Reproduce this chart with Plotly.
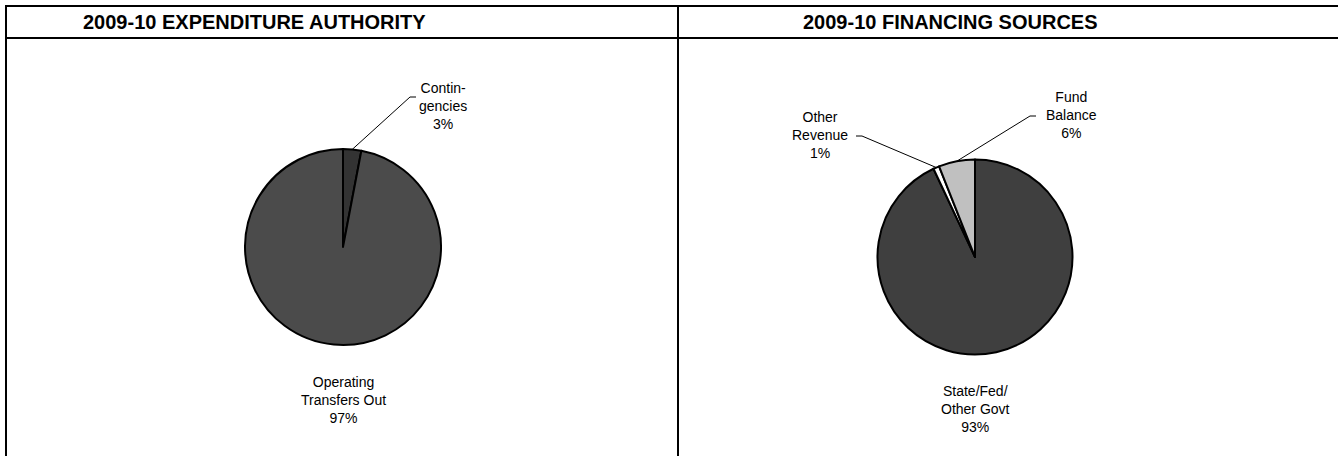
import math
import plotly.graph_objects as go

W, H = 1338, 456

# ---- data ----
exp_labels = ["Contin-<br>gencies", "Operating<br>Transfers Out"]
exp_values = [3, 97]
exp_colors = ["#333333", "#4b4b4b"]

fin_labels = ["State/Fed/<br>Other Govt", "Other<br>Revenue", "Fund<br>Balance"]
fin_values = [93, 1, 6]
fin_colors = ["#3f3f3f", "#ffffff", "#c0c0c0"]

titles = ["2009-10 EXPENDITURE AUTHORITY", "2009-10 FINANCING SOURCES"]

# ---- geometry (pixels) ----
pie1_c, pie1_r = (343, 247), 98
pie2_c, pie2_r = (975, 257), 97.5


def px(x):
    return x / W


def py(y):
    return 1 - y / H


def dom(c, r):
    return dict(x=[px(c[0] - r), px(c[0] + r)], y=[py(c[1] + r), py(c[1] - r)])


fig = go.Figure()
fig.add_trace(go.Pie(labels=exp_labels, values=exp_values, sort=False, direction="clockwise",
                     rotation=0, textinfo="none", hoverinfo="label+percent",
                     marker=dict(colors=exp_colors, line=dict(color="black", width=2)),
                     domain=dom(pie1_c, pie1_r), showlegend=False))
fig.add_trace(go.Pie(labels=fin_labels, values=fin_values, sort=False, direction="clockwise",
                     rotation=0, textinfo="none", hoverinfo="label+percent",
                     marker=dict(colors=fin_colors, line=dict(color="black", width=2)),
                     domain=dom(pie2_c, pie2_r), showlegend=False))


def mid_point(values, idx, c, r):
    tot = sum(values)
    start = sum(values[:idx]) / tot * 360
    mid = start + values[idx] / tot * 180
    a = math.radians(mid)
    return c[0] + r * math.sin(a), c[1] - r * math.cos(a)


def pct(values, idx):
    return f"{round(values[idx] / sum(values) * 100)}%"


shapes = []
annos = []
black = dict(color="black", width=2)
# frame
shapes.append(dict(type="line", xref="paper", yref="paper", x0=px(6), x1=px(1338), y0=py(6), y1=py(6), line=black))
shapes.append(dict(type="line", xref="paper", yref="paper", x0=px(6), x1=px(1338), y0=py(38), y1=py(38), line=black))
shapes.append(dict(type="line", xref="paper", yref="paper", x0=px(6), x1=px(6), y0=py(5), y1=py(456), line=black))
shapes.append(dict(type="line", xref="paper", yref="paper", x0=px(678), x1=px(678), y0=py(5), y1=py(456), line=black))

font_h = dict(family="Liberation Sans, Arial, sans-serif", size=20, color="black")
for t, x in zip(titles, [254, 950]):
    annos.append(dict(text=f"<b>{t}</b>", x=px(x), y=py(22), xref="paper", yref="paper",
                      showarrow=False, font=font_h, xanchor="center", yanchor="middle"))

font_l = dict(family="Liberation Sans, Arial, sans-serif", size=14, color="black")


def label(text, x, y):
    annos.append(dict(text=text, x=px(x), y=py(y), xref="paper", yref="paper", showarrow=False,
                      font=font_l, xanchor="center", yanchor="middle", align="center"))


def leader(p0, p1, p2):
    path = f"M {px(p0[0])},{py(p0[1])} L {px(p1[0])},{py(p1[1])} L {px(p2[0])},{py(p2[1])}"
    shapes.append(dict(type="path", xref="paper", yref="paper", path=path,
                       line=dict(color="black", width=1)))


# Contingencies
p = mid_point(exp_values, 0, pie1_c, pie1_r)
leader(p, (410, 97), (416, 97))
label(f"{exp_labels[0]}<br>{pct(exp_values, 0)}", 443, 106)
# Operating transfers
label(f"{exp_labels[1]}<br>{pct(exp_values, 1)}", 343, 400)

# State/Fed
label(f"{fin_labels[0]}<br>{pct(fin_values, 0)}", 975, 409)
# Other revenue
p = mid_point(fin_values, 1, pie2_c, pie2_r)
leader(p, (862, 136), (856, 136))
label(f"{fin_labels[1]}<br>{pct(fin_values, 1)}", 820, 135)
# Fund balance
p = mid_point(fin_values, 2, pie2_c, pie2_r)
leader(p, (1030, 116), (1036, 116))
label(f"{fin_labels[2]}<br>{pct(fin_values, 2)}", 1071, 115)

fig.update_layout(width=W, height=H, margin=dict(l=0, r=0, t=0, b=0),
                  paper_bgcolor="white", plot_bgcolor="white",
                  shapes=shapes, annotations=annos)
fig.write_html("out.html", config={"displayModeBar": False},
               post_script="document.body.style.margin='0px';")
